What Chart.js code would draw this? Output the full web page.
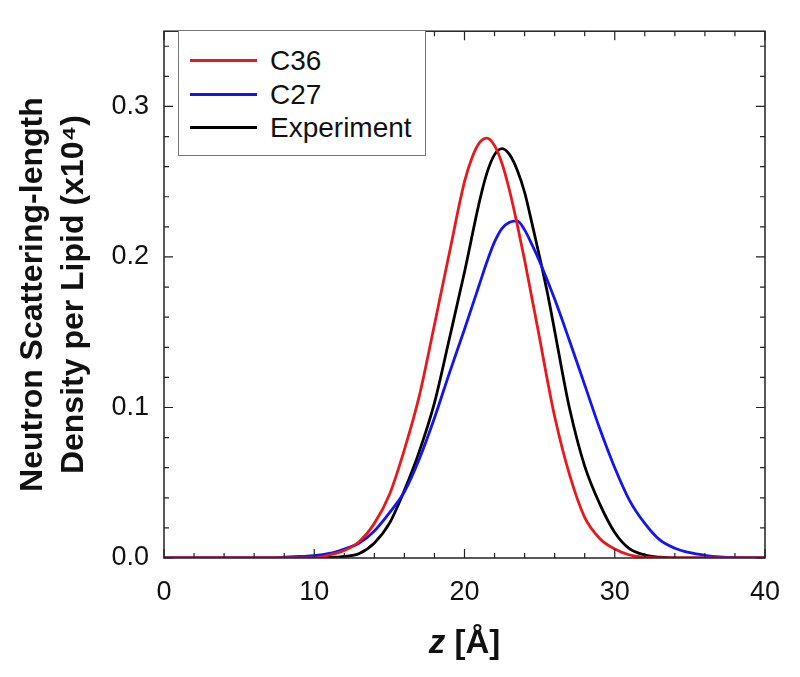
<!DOCTYPE html>
<html>
<head>
<meta charset="utf-8">
<script src="https://cdn.jsdelivr.net/npm/chart.js@4.4.1/dist/chart.umd.min.js"></script>
<style>
  body { margin: 0; background: #fff; }
  #wrap { position: relative; width: 800px; height: 677px; }
  #legend {
    position: absolute; left: 178px; top: 30px; width: 248px; height: 126px;
    border: 1px solid #777; background: #fff; box-sizing: border-box;
    font-family: "Liberation Sans", Arial, sans-serif; font-size: 28px; color: #111;
  }
  #legend .row { position: absolute; left: 0; height: 34px; line-height: 34px; }
  #legend .swatch { position: absolute; left: 11px; top: 15px; width: 67px; height: 3px; }
  #legend .lbl { position: absolute; left: 91px; top: 0; white-space: nowrap; }
</style>
</head>
<body>
<div id="wrap">
  <canvas id="chart" width="800" height="677"></canvas>
  <div id="legend"></div>
</div>
<script>
// series: z in Angstrom, density x10^4
const zC36 = [0, 5, 10, 11, 12, 13, 14, 15, 16, 17, 18, 19, 20, 20.5, 21, 21.5, 22, 22.5, 23, 23.5, 24, 24.5, 25, 25.5, 26, 27, 28, 29, 30, 31, 32, 33, 40];
const c36  = [0, 0, 0, 0.002, 0.005, 0.011, 0.023, 0.042, 0.072, 0.108, 0.155, 0.203, 0.250, 0.266, 0.276, 0.279, 0.274, 0.262, 0.244, 0.222, 0.198, 0.172, 0.146, 0.119, 0.094, 0.055, 0.027, 0.013, 0.006, 0.002, 0.0005, 0, 0];

const zC27 = [0, 7, 8, 9, 10, 11, 12, 13, 14, 15, 16, 17, 18, 19, 20, 21, 21.5, 22, 22.5, 23, 23.5, 24, 24.5, 25, 26, 27, 28, 29, 30, 31, 32, 33, 34, 35, 36, 37, 38, 40];
const c27  = [0, 0, 0.0005, 0.001, 0.0015, 0.003, 0.006, 0.010, 0.018, 0.030, 0.044, 0.066, 0.093, 0.123, 0.152, 0.182, 0.197, 0.210, 0.219, 0.223, 0.224, 0.218, 0.208, 0.197, 0.172, 0.144, 0.115, 0.086, 0.060, 0.038, 0.023, 0.012, 0.0065, 0.0035, 0.0018, 0.0007, 0.0002, 0];

const zExp = [0, 5, 10, 12, 13, 14, 15, 16, 17, 18, 19, 20, 21, 21.5, 22, 22.5, 23, 23.5, 24, 24.5, 25, 25.5, 26, 26.5, 27, 28, 29, 30, 31, 32, 33, 34, 40];
const expt = [0, 0, 0, 0.001, 0.003, 0.010, 0.023, 0.045, 0.071, 0.103, 0.146, 0.190, 0.237, 0.256, 0.268, 0.272, 0.268, 0.258, 0.243, 0.222, 0.200, 0.177, 0.151, 0.124, 0.099, 0.061, 0.036, 0.017, 0.006, 0.002, 0.0005, 0, 0];

const seriesNames = ['C36', 'C27', 'Experiment'];
const seriesColors = ['#e8181c', '#1414f0', '#000000'];
const xTicks = [0, 10, 20, 30, 40];
const yTicks = [0, 0.1, 0.2, 0.3];

const FONT = '"Liberation Sans", Arial, sans-serif';

function pts(zs, vs) {
  return zs.map((z, i) => ({ x: z, y: vs[i] }));
}

// frame with inward ticks on all four sides, plus the x title
const framePlugin = {
  id: 'frame',
  afterDraw(chart) {
    const ctx = chart.ctx;
    const a = chart.chartArea;
    const xs = chart.scales.x, ys = chart.scales.y;
    ctx.save();
    ctx.strokeStyle = '#222';
    ctx.lineWidth = 1.5;
    ctx.strokeRect(a.left, a.top, a.right - a.left, a.bottom - a.top);
    ctx.lineWidth = 1.2;
    ctx.beginPath();
    for (let v = 0; v <= 40; v += 2) {
      const px = xs.getPixelForValue(v);
      const len = v % 10 === 0 ? 9 : 5;
      ctx.moveTo(px, a.bottom); ctx.lineTo(px, a.bottom - len);
      ctx.moveTo(px, a.top); ctx.lineTo(px, a.top + len);
    }
    for (let k = 0; k <= 17; k++) {
      const py = ys.getPixelForValue(k * 0.02);
      const len = k % 5 === 0 ? 9 : 5;
      ctx.moveTo(a.left, py); ctx.lineTo(a.left + len, py);
      ctx.moveTo(a.right, py); ctx.lineTo(a.right - len, py);
    }
    ctx.stroke();

    // x title: italic z then [Å]
    const cx = (a.left + a.right) / 2;
    const base = 653;
    ctx.fillStyle = '#111';
    ctx.textBaseline = 'alphabetic';
    ctx.font = 'italic bold 33px ' + FONT;
    const w1 = ctx.measureText('z').width;
    ctx.font = 'bold 33px ' + FONT;
    const w2 = ctx.measureText(' [Å]').width;
    const x0 = cx - (w1 + w2) / 2;
    ctx.textAlign = 'left';
    ctx.font = 'italic bold 33px ' + FONT;
    ctx.fillText('z', x0, base);
    ctx.font = 'bold 33px ' + FONT;
    ctx.fillText(' [Å]', x0 + w1, base);
    ctx.restore();
  }
};

const ctx = document.getElementById('chart').getContext('2d');
const myChart = new Chart(ctx, {
  type: 'line',
  data: {
    datasets: [
      { label: seriesNames[0], data: pts(zC36, c36), borderColor: seriesColors[0] },
      { label: seriesNames[1], data: pts(zC27, c27), borderColor: seriesColors[1] },
      { label: seriesNames[2], data: pts(zExp, expt), borderColor: seriesColors[2] }
    ]
  },
  options: {
    responsive: false,
    animation: false,
    parsing: false,
    layout: { padding: { top: 19, right: 35, left: 0, bottom: 0 } },
    elements: {
      line: { borderWidth: 2.8, cubicInterpolationMode: 'monotone', fill: false },
      point: { radius: 0 }
    },
    plugins: { legend: { display: false }, tooltip: { enabled: false } },
    scales: {
      x: {
        type: 'linear', min: 0, max: 40,
        afterFit: s => { s.height = 119; },
        afterBuildTicks: s => { s.ticks = xTicks.map(v => ({ value: v })); },
        grid: { display: false, drawTicks: false },
        border: { display: false },
        ticks: { padding: 18, color: '#111', font: { family: FONT, size: 27 }, maxRotation: 0 }
      },
      y: {
        type: 'linear', min: 0, max: 0.35,
        afterFit: s => { s.width = 164; },
        afterBuildTicks: s => { s.ticks = yTicks.map(v => ({ value: v })); },
        grid: { display: false, drawTicks: false },
        border: { display: false },
        ticks: {
          padding: 15, color: '#111', font: { family: FONT, size: 27 },
          callback: v => v.toFixed(1)
        },
        title: {
          display: true,
          text: ['Neutron Scattering-length', 'Density per Lipid (x10⁴)'],
          color: '#111',
          font: { family: FONT, size: 32, weight: 'bold', lineHeight: 1.3 },
          padding: { top: 12, bottom: 0 }
        }
      }
    }
  },
  plugins: [framePlugin]
});

// legend drawn inside the plot box
const legendEl = document.getElementById('legend');
myChart.data.datasets.forEach((ds, i) => {
  const row = document.createElement('div');
  row.className = 'row';
  row.style.top = (13 + i * 33.5) + 'px';
  row.innerHTML = '<span class="swatch" style="background:' + ds.borderColor + '"></span><span class="lbl">' + ds.label + '</span>';
  legendEl.appendChild(row);
});
</script>
</body>
</html>
